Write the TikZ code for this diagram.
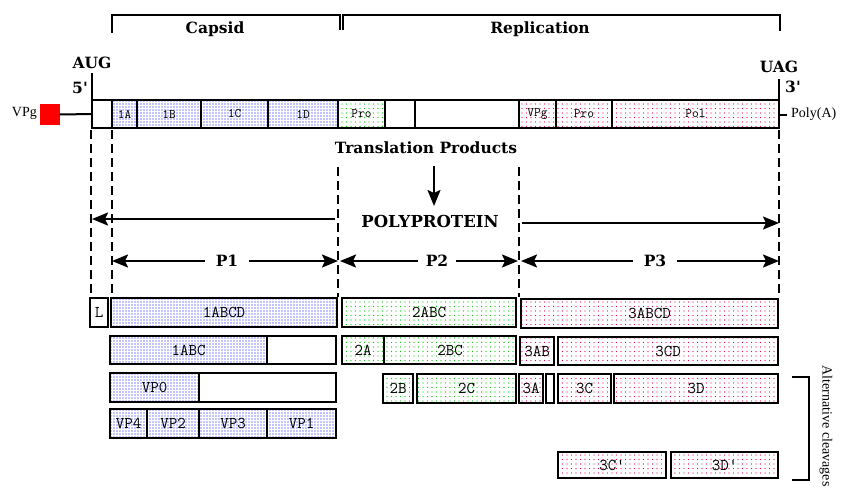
\documentclass[tikz,border=0pt]{standalone}
\usepackage{fontspec}
\setmainfont{Liberation Serif}
\newfontfamily\hdrfont{DejaVu Serif}
\newfontfamily\lblfont{Latin Modern Mono}
\usetikzlibrary{arrows.meta,patterns.meta}
\definecolor{pinkdot}{RGB}{240,0,90}
\definecolor{greendot}{RGB}{0,200,0}
\tikzset{
  seg/.style={draw, line width=2.6pt, inner sep=0pt, outer sep=0pt, font=\lblfont\fontsize{16.5}{16}\selectfont},
  gseg/.style={draw, line width=2pt, inner sep=0pt, outer sep=0pt, font=\lblfont\fontsize{13}{13}\selectfont},
  blu/.style={pattern={Dots[distance=3pt,radius=0.7pt]}, pattern color=blue},
  grn/.style={pattern={Dots[distance=4.5pt,radius=0.7pt]}, pattern color=greendot},
  pnk/.style={pattern={Dots[distance=4.5pt,radius=0.7pt]}, pattern color=pinkdot},
  hdr/.style={font=\hdrfont\bfseries\fontsize{15.5}{17}\selectfont, inner sep=0pt},
  txt/.style={font=\fontsize{14}{16}\selectfont, inner sep=0pt},
  arr/.style={-{Stealth[length=16pt,width=13pt,inset=3pt]}, line width=2pt},
  dsh/.style={dash pattern=on 9pt off 5pt, line width=2pt},
  brk/.style={line width=2pt},
  plab/.style={hdr, inner xsep=11pt},
}
\newcommand\sg[7]{\node[#6, minimum width={(#4-#2)*1pt}, minimum height={(#5-#3)*1pt}] (#1) at ({(#2+#4)/2},{(#3+#5)/2}) {#7};}
\begin{document}
\begin{tikzpicture}[x=1pt,y=-1pt]
\useasboundingbox (0,0) rectangle (842,491);
\fill[white] (0,0) rectangle (842,491);

% brackets
\draw[brk] (112,33) -- (112,15) -- (340,15) -- (340,30);
\draw[brk] (343,30) -- (343,15) -- (780,15) -- (780,31);
\node[hdr] (capsid) at (215,29) {Capsid};
\node[hdr] (repl) at (540,29) {Replication};

% ends
\node[hdr] (aug) at (92,63) {AUG};
\node[hdr] (five) at (80,88) {5'};
\node[hdr] (uag) at (779,67) {UAG};
\node[hdr] (three) at (793,87) {3'};
\draw[brk] (92,73) -- (92,128);
\draw[brk] (779,79) -- (779,128);

% genome
\sg{g0}{92}{100}{112}{128}{gseg}{}
\sg{g1A}{112}{100}{137}{128}{gseg,blu}{1A}
\sg{g1B}{137}{100}{201}{128}{gseg,blu}{1B}
\sg{g1C}{201}{100}{268}{128}{gseg,blu}{1C}
\sg{g1D}{268}{100}{338}{128}{gseg,blu}{1D}
\sg{gPro}{338}{100}{385}{128}{gseg,grn}{Pro}
\sg{g2x}{385}{100}{415}{128}{gseg}{}
\sg{g2y}{415}{100}{519}{128}{gseg}{}
\sg{gVPg}{519}{100}{556}{128}{gseg,pnk}{VPg}
\sg{gPro3}{556}{100}{612}{128}{gseg,pnk}{Pro}
\sg{gPol}{612}{100}{779}{128}{gseg,pnk}{Pol}

\node[draw=red, fill=red, minimum width=19pt, minimum height=20pt, inner sep=0pt] (vpgsq) at (50,114.5) {};
\node[txt, anchor=east] (vpglab) at (37,113) {VPg};
\draw[brk] (vpgsq.east) -- (g0.west);
\coordinate (pa) at (787,115);
\draw[brk] (gPol.east |- pa) -- (pa);
\node[txt, anchor=west] (polya) at (791,114) {Poly(A)};

% translation products
\node[hdr] (tp) at (426,148) {Translation Products};
\node[hdr, font=\hdrfont\bfseries\fontsize{16.5}{18}\selectfont] (pp) at (430,221) {POLYPROTEIN};
\coordinate (ta) at (434,166);
\coordinate (tb) at (434,206);
\draw[arr] (ta) -- (tb);

% dashed guides
\draw[dsh] (91,130) -- (91,297);
\draw[dsh] (112,130) -- (112,297);
\draw[dsh] (338,167) -- (338,297);
\draw[dsh] (519,167) -- (519,297);
\draw[dsh] (779,130) -- (779,297);

% polyprotein arrows
\coordinate (ppl0) at (335,219);
\coordinate (ppl1) at (92,219);
\coordinate (ppr0) at (522,223);
\coordinate (ppr1) at (779,223);
\draw[arr] (ppl0) -- (ppl1);
\draw[arr] (ppr0) -- (ppr1);

% P1 P2 P3
\node[plab] (p1) at (227,261) {P1};
\node[plab, inner xsep=8pt] (p2) at (437,261) {P2};
\node[plab] (p3) at (655,261) {P3};
\coordinate (p1a) at (112,261);
\coordinate (p1b) at (338,261);
\coordinate (p2a) at (340,261);
\coordinate (p2b) at (518,261);
\coordinate (p3a) at (521,261);
\coordinate (p3b) at (779,261);
\draw[arr] (p1) -- (p1a);
\draw[arr] (p1) -- (p1b);
\draw[arr] (p2) -- (p2a);
\draw[arr] (p2) -- (p2b);
\draw[arr] (p3) -- (p3a);
\draw[arr] (p3) -- (p3b);

% row 1
\sg{rL}{90}{298}{108}{327}{seg}{L}
\sg{r1ABCD}{111}{298}{337}{327}{seg,blu}{1ABCD}
\sg{r2ABC}{342}{298}{516}{327}{seg,grn}{2ABC}
\sg{r3ABCD}{521}{299}{778}{328}{seg,pnk}{3ABCD}

% row 2
\sg{r1ABC}{110}{336}{267}{364}{seg,blu}{1ABC}
\sg{r1ABw}{267}{336}{336}{364}{seg}{}
\sg{r2A}{342}{336}{384}{364}{seg,grn}{2A}
\sg{r2BC}{384}{336}{516}{364}{seg,grn}{2BC}
\sg{r3AB}{520}{337}{554}{365}{seg,pnk}{3AB}
\sg{r3CD}{558}{337}{778}{365}{seg,pnk}{3CD}

% row 3
\sg{rVP0}{110}{373}{199}{402}{seg,blu}{VP0}
\sg{rVP0w}{199}{373}{336}{402}{seg}{}
\sg{r2B}{383}{374}{413}{403}{seg,grn}{2B}
\sg{r2C}{417}{374}{516}{403}{seg,grn}{2C}
\sg{r3A}{519}{374}{543}{403}{seg,pnk}{3A}
\sg{r3Bx}{546}{374}{554}{403}{seg}{}
\sg{r3C}{558}{374}{611}{403}{seg,pnk}{3C}
\sg{r3D}{614}{374}{778}{403}{seg,pnk}{3D}

% row 4
\sg{rVP4}{110}{409}{147}{438}{seg,blu}{VP4}
\sg{rVP2}{147}{409}{199}{438}{seg,blu}{VP2}
\sg{rVP3}{199}{409}{267}{438}{seg,blu}{VP3}
\sg{rVP1}{267}{409}{336}{438}{seg,blu}{VP1}

% row 5
\sg{r3Cp}{558}{452}{666}{478}{seg,pnk}{3C'}
\sg{r3Dp}{671}{452}{778}{478}{seg,pnk}{3D'}

% alternative cleavages
\draw[brk] (792,377) -- (809,377) -- (809,480) -- (792,480);
\node[txt, rotate=-90] (alt) at (826,426) {Alternative cleavages};
\end{tikzpicture}
\end{document}
